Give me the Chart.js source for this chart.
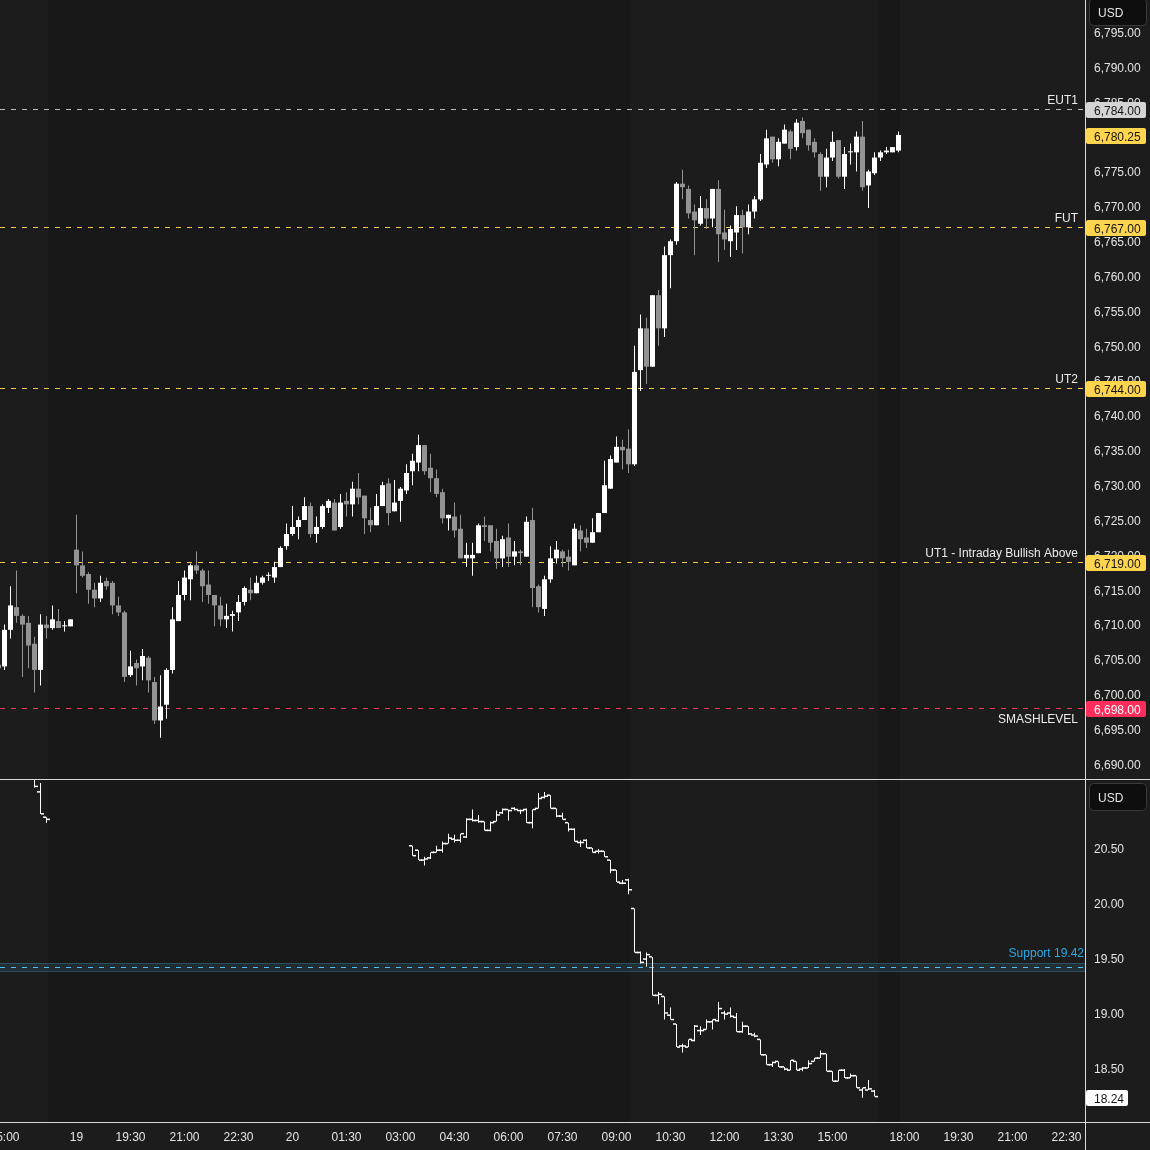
<!DOCTYPE html>
<html>
<head>
<meta charset="utf-8">
<script src="https://cdn.jsdelivr.net/npm/chart.js@4.4.1/dist/chart.umd.min.js"></script>
<style>
  html, body { margin: 0; padding: 0; background: #1c1c1c; }
  #wrap { position: relative; width: 1150px; height: 1150px; overflow: hidden; }
  canvas { position: absolute; left: 0; }
  #esChart { top: 0; }
  #vixChart { top: 780px; }
  .hline { position: absolute; left: 0; width: 1150px; height: 1px; background: #d9d9d9; }
  .vline { position: absolute; top: 0; left: 1085px; width: 1px; height: 1150px; background: #d9d9d9; }
</style>
</head>
<body>
<div id="wrap">
  <canvas id="esChart" width="1150" height="779"></canvas>
  <canvas id="vixChart" width="1150" height="370"></canvas>
  <div class="hline" style="top:779px"></div>
  <div class="hline" style="top:1122px"></div>
  <div class="vline"></div>
</div>
<script>
// ---- data -------------------------------------------------------------
// 10 minute bars. slot 0 = 18:00 session open (the "19" mark), one slot per bar
const esFirstSlot = -13;
const esOpen = [
  6704.25, 6704.0, 6709.25, 6712.5, 6711.25, 6710.25, 6707.25, 6703.5, 6710.0, 6709.5, 6710.5, 6709.75, 6709.75,
  6720.75, 6718.5, 6717.25, 6715.0, 6713.75, 6716.25, 6716.0, 6712.75, 6711.75, 6702.75, 6704.5, 6704.0, 6705.25,
  6701.75, 6696.25, 6698.5, 6703.5, 6710.5, 6714.25, 6716.5, 6718.5, 6717.75, 6715.75, 6714.25, 6712.75, 6710.75,
  6711.25, 6711.75, 6713.25, 6715.0, 6714.5, 6716.0, 6717.0, 6716.75, 6718.25, 6721.25, 6723.0, 6724.0, 6725.0,
  6727.0, 6723.0, 6724.0, 6726.75, 6727.5, 6724.0, 6727.75, 6727.25, 6729.5, 6728.5, 6725.0, 6724.25, 6727.0,
  6730.25, 6726.25, 6727.75, 6729.25, 6732.0, 6733.25, 6735.75, 6732.5, 6731.0, 6729.0, 6725.25, 6725.5, 6723.75,
  6719.5, 6719.5, 6720.25, 6724.25, 6724.25, 6722.0, 6719.5, 6722.5, 6719.75, 6720.5, 6719.75, 6725.0, 6715.5,
  6712.25, 6716.5, 6719.5, 6720.5, 6719.75, 6718.5, 6723.5, 6722.5, 6721.75, 6723.25, 6726.0, 6729.5, 6733.25,
  6735.5, 6735.25, 6733.0, 6746.5, 6752.5, 6747.0, 6757.25, 6752.5, 6763.0, 6765.0, 6773.25, 6772.5, 6769.25,
  6767.5, 6769.75, 6768.25, 6772.5, 6766.25, 6765.0, 6766.25, 6768.75, 6767.0, 6769.25, 6771.0, 6776.0, 6780.0,
  6776.75, 6779.0, 6780.75, 6778.5, 6782.25, 6781.0, 6779.25, 6777.5, 6774.25, 6777.0, 6779.5, 6774.25, 6777.75,
  6777.75, 6780.0, 6773.0, 6774.75, 6777.0, 6777.75, 6777.75, 6778.0
];
const esHigh = [
  6704.5, 6710.0, 6715.5, 6717.75, 6711.5, 6711.25, 6708.25, 6711.5, 6711.25, 6712.75, 6712.25, 6710.5, 6710.75,
  6725.75, 6720.5, 6717.5, 6716.0, 6717.0, 6716.75, 6716.25, 6714.0, 6712.0, 6706.25, 6705.0, 6706.5, 6705.5,
  6702.5, 6702.75, 6703.75, 6712.5, 6716.25, 6717.75, 6718.75, 6720.5, 6718.0, 6717.75, 6714.25, 6714.0, 6713.0,
  6712.0, 6714.25, 6715.5, 6716.75, 6717.0, 6717.0, 6717.5, 6719.0, 6721.25, 6724.5, 6727.0, 6725.5, 6728.25,
  6727.5, 6725.5, 6727.25, 6728.0, 6728.0, 6728.75, 6729.0, 6730.5, 6731.75, 6728.5, 6726.75, 6728.75, 6730.5,
  6731.0, 6730.75, 6729.75, 6733.0, 6734.5, 6737.25, 6735.75, 6734.5, 6732.25, 6729.5, 6725.75, 6727.5, 6725.75,
  6721.75, 6721.75, 6724.5, 6725.5, 6724.25, 6723.75, 6722.75, 6724.5, 6722.0, 6720.75, 6725.5, 6726.75, 6715.75,
  6717.0, 6721.25, 6722.0, 6720.75, 6720.75, 6724.5, 6724.25, 6723.75, 6725.25, 6726.0, 6733.5, 6734.25, 6737.0,
  6736.5, 6738.0, 6750.0, 6754.5, 6754.0, 6757.25, 6758.0, 6764.25, 6765.25, 6773.5, 6775.25, 6773.0, 6770.25,
  6771.5, 6771.0, 6772.5, 6773.75, 6769.5, 6767.25, 6770.0, 6769.5, 6770.25, 6771.5, 6777.5, 6781.0, 6780.0,
  6779.75, 6781.75, 6781.0, 6782.5, 6782.75, 6781.0, 6779.75, 6777.75, 6778.25, 6780.75, 6779.5, 6778.5, 6779.0,
  6780.75, 6782.25, 6775.25, 6777.75, 6778.0, 6778.5, 6778.5, 6780.75
];
const esLow = [
  6703.5, 6703.5, 6708.0, 6710.25, 6702.5, 6703.75, 6700.25, 6701.25, 6708.0, 6709.25, 6709.5, 6709.0, 6709.75,
  6714.5, 6716.75, 6713.0, 6712.5, 6713.25, 6715.0, 6711.5, 6711.25, 6701.75, 6702.5, 6701.25, 6702.0, 6700.25,
  6695.75, 6693.75, 6696.5, 6703.0, 6710.5, 6713.5, 6713.5, 6717.25, 6713.25, 6713.0, 6709.75, 6709.75, 6709.5,
  6709.0, 6710.5, 6712.75, 6713.5, 6714.5, 6715.75, 6716.25, 6716.0, 6718.25, 6720.75, 6722.75, 6722.25, 6725.0,
  6722.5, 6721.75, 6723.75, 6726.0, 6723.5, 6723.75, 6725.5, 6725.5, 6727.25, 6723.0, 6723.25, 6724.25, 6727.0,
  6724.25, 6726.25, 6724.75, 6728.75, 6730.0, 6732.0, 6731.5, 6729.0, 6728.25, 6724.5, 6723.5, 6722.5, 6719.5,
  6718.25, 6717.0, 6720.25, 6722.0, 6720.5, 6718.0, 6718.25, 6718.25, 6718.5, 6718.5, 6719.75, 6712.5, 6711.75,
  6711.25, 6716.0, 6718.75, 6718.25, 6717.75, 6718.5, 6720.5, 6721.0, 6721.75, 6723.25, 6726.0, 6729.5, 6733.25,
  6732.25, 6731.75, 6732.75, 6743.5, 6744.5, 6747.0, 6750.0, 6751.25, 6758.25, 6764.5, 6771.0, 6768.25, 6763.0,
  6767.25, 6766.75, 6767.0, 6762.0, 6763.75, 6762.75, 6763.75, 6763.25, 6766.0, 6768.25, 6770.75, 6775.5, 6776.25,
  6775.75, 6779.0, 6776.75, 6778.0, 6779.75, 6778.0, 6777.0, 6772.25, 6772.75, 6776.5, 6774.0, 6772.5, 6776.0,
  6775.0, 6772.25, 6769.75, 6774.5, 6776.5, 6777.5, 6777.75, 6777.75
];
const esClose = [
  6703.75, 6709.25, 6712.75, 6711.25, 6710.0, 6707.0, 6703.5, 6710.0, 6709.5, 6710.75, 6709.5, 6709.75, 6710.75,
  6718.5, 6717.0, 6715.0, 6713.75, 6716.0, 6715.5, 6712.75, 6711.75, 6702.5, 6704.0, 6703.75, 6705.5, 6702.0,
  6696.25, 6698.25, 6703.5, 6710.75, 6714.25, 6716.75, 6718.5, 6717.75, 6715.5, 6714.25, 6712.75, 6710.75, 6711.25,
  6711.5, 6713.25, 6715.25, 6714.5, 6716.0, 6716.75, 6717.0, 6718.25, 6721.0, 6723.0, 6724.0, 6725.0, 6727.0,
  6723.0, 6724.0, 6727.0, 6727.75, 6723.5, 6727.5, 6727.25, 6729.5, 6728.25, 6725.25, 6724.25, 6727.0, 6730.0,
  6726.0, 6727.5, 6729.5, 6731.75, 6733.5, 6735.75, 6732.0, 6731.0, 6728.75, 6725.25, 6725.75, 6723.5, 6719.5,
  6720.0, 6720.0, 6724.25, 6724.0, 6721.75, 6719.5, 6722.25, 6719.75, 6720.5, 6720.25, 6724.75, 6715.25, 6712.5,
  6716.5, 6719.5, 6720.75, 6719.5, 6719.0, 6723.75, 6722.25, 6721.75, 6723.25, 6726.0, 6730.0, 6733.75, 6735.5,
  6735.0, 6733.0, 6746.25, 6752.5, 6747.0, 6757.25, 6752.5, 6763.0, 6765.0, 6773.25, 6772.75, 6769.0, 6768.0,
  6769.75, 6768.25, 6772.5, 6766.0, 6765.25, 6766.75, 6768.75, 6767.0, 6769.25, 6771.0, 6776.25, 6779.75, 6776.75,
  6779.25, 6781.0, 6778.25, 6782.0, 6780.5, 6778.75, 6777.75, 6774.25, 6777.0, 6779.25, 6774.25, 6777.5, 6777.75,
  6780.0, 6772.75, 6775.0, 6777.0, 6777.75, 6778.0, 6778.5, 6780.25
];

// VIX, same 10 minute slots (cash index only prints in its own hours)
const vixSlots = [-7, -6, -5].concat(Array.from({ length: 78 }, (_, i) => 56 + i));
const vixOpen = [
  21.15, 21.01, 20.78,
  20.52, 20.48, 20.39, 20.41, 20.46, 20.48, 20.54, 20.58, 20.57, 20.60, 20.76, 20.75, 20.74, 20.66, 20.74, 20.82,
  20.85, 20.86, 20.84, 20.85, 20.73, 20.86, 20.96, 20.98, 20.86, 20.79, 20.73, 20.67, 20.55, 20.57, 20.50, 20.47,
  20.47, 20.39, 20.30, 20.18, 20.21, 19.95, 19.55, 19.49, 19.51, 19.16, 19.15, 18.98, 18.90, 18.70, 18.69, 18.75,
  18.84, 18.85, 18.92, 18.93, 19.00, 19.00, 18.96, 18.83, 18.88, 18.80, 18.76, 18.62, 18.53, 18.56, 18.51, 18.48,
  18.56, 18.49, 18.50, 18.56, 18.59, 18.63, 18.47, 18.38, 18.48, 18.41, 18.43, 18.30, 18.30, 18.29
];
const vixHigh = [
  21.20, 21.09, 20.78,
  20.52, 20.48, 20.42, 20.46, 20.52, 20.56, 20.63, 20.62, 20.63, 20.77, 20.85, 20.80, 20.74, 20.74, 20.84, 20.86,
  20.85, 20.87, 20.85, 20.86, 20.85, 21.00, 21.01, 20.98, 20.86, 20.82, 20.73, 20.68, 20.57, 20.58, 20.50, 20.49,
  20.47, 20.39, 20.30, 20.21, 20.22, 19.95, 19.56, 19.55, 19.51, 19.19, 19.15, 19.05, 18.90, 18.72, 18.76, 18.89,
  18.88, 18.94, 18.94, 19.10, 19.02, 19.05, 19.00, 18.92, 18.88, 18.82, 18.76, 18.62, 18.56, 18.56, 18.51, 18.57,
  18.56, 18.51, 18.57, 18.59, 18.66, 18.63, 18.47, 18.48, 18.49, 18.45, 18.43, 18.32, 18.39, 18.30
];
const vixLow = [
  21.05, 20.81, 20.73,
  20.43, 20.39, 20.34, 20.40, 20.46, 20.46, 20.54, 20.55, 20.55, 20.59, 20.74, 20.73, 20.66, 20.65, 20.74, 20.81,
  20.75, 20.84, 20.81, 20.73, 20.68, 20.86, 20.95, 20.86, 20.78, 20.76, 20.65, 20.56, 20.51, 20.50, 20.46, 20.45,
  20.42, 20.27, 20.19, 20.17, 20.08, 19.55, 19.45, 19.42, 19.16, 19.08, 18.94, 18.94, 18.69, 18.64, 18.69, 18.74,
  18.80, 18.85, 18.85, 18.92, 18.94, 18.96, 18.83, 18.82, 18.80, 18.78, 18.62, 18.53, 18.51, 18.51, 18.48, 18.48,
  18.48, 18.47, 18.50, 18.56, 18.59, 18.47, 18.38, 18.38, 18.41, 18.41, 18.32, 18.23, 18.30, 18.24
];
const vixClose = [
  21.06, 20.81, 20.76,
  20.43, 20.39, 20.40, 20.46, 20.48, 20.54, 20.59, 20.57, 20.63, 20.76, 20.75, 20.74, 20.66, 20.73, 20.80, 20.85,
  20.84, 20.85, 20.84, 20.73, 20.85, 20.95, 20.97, 20.86, 20.79, 20.76, 20.67, 20.56, 20.55, 20.50, 20.46, 20.47,
  20.42, 20.30, 20.19, 20.18, 20.12, 19.55, 19.46, 19.53, 19.16, 19.17, 19.00, 18.94, 18.69, 18.70, 18.76, 18.88,
  18.84, 18.92, 18.94, 19.04, 18.99, 18.97, 18.83, 18.88, 18.81, 18.79, 18.62, 18.53, 18.55, 18.51, 18.49, 18.57,
  18.48, 18.50, 18.54, 18.59, 18.63, 18.47, 18.38, 18.48, 18.41, 18.43, 18.32, 18.32, 18.31, 18.24
];

// horizontal levels on the ES pane
const levelValues = [6784, 6767, 6744, 6719, 6698];
const levelNames = ['EUT1', 'FUT', 'UT2', 'UT1 - Intraday Bullish Above', 'SMASHLEVEL'];
const supportValue = 19.42;
const supportZone = [19.37, 19.455];

// time axis
const timeTickSlots = [-12, 0, 9, 18, 27, 36, 45, 54, 63, 72, 81, 90, 99, 108, 117, 126, 138, 147, 156, 165];
const timeTickLabels = ['15:00', '19', '19:30', '21:00', '22:30', '20', '01:30', '03:00', '04:30', '06:00',
  '07:30', '09:00', '10:30', '12:00', '13:30', '15:00', '18:00', '19:30', '21:00', '22:30'];
// regular-hours shading, in slots
const sessionBands = [[-14, -4.75], [92.25, 133.6], [137.25, 175]];

const esTicks = [];
for (let v = 6690; v <= 6795; v += 5) esTicks.push(v);
const vixTicks = [18.5, 19, 19.5, 20, 20.5];

// ---- styles -----------------------------------------------------------
const FONT = '"Liberation Sans", Arial, sans-serif';
const upColor = '#ffffff';
const downColor = '#939393';
const textColor = '#e4e4e4';
const levelLineColors = ['#bdbdbd', '#f2c94c', '#f2c94c', '#f2c94c', '#f23a5e'];
const levelBadgeColors = ['#d4d4d4', '#ffd54f', '#ffd54f', '#ffd54f', '#ff2d5c'];
const levelBadgeText = ['#141414', '#141414', '#141414', '#141414', '#ffffff'];
const levelNameBelow = [false, false, false, false, true];
const X_MIN = -12.75;
const X_MAX = X_MIN + 1085 / 6;
const TEXT_NUDGE = 1.5; // Liberation sits a bit high on 'middle'

Chart.defaults.font.family = FONT;
Chart.defaults.font.size = 12;
Chart.defaults.color = textColor;

const esSlots = esOpen.map((_, i) => esFirstSlot + i);
const candleColor = (ctx) => esClose[ctx.dataIndex] >= esOpen[ctx.dataIndex] ? upColor : downColor;

const fmtPrice = (v) => v.toLocaleString('en-US', { minimumFractionDigits: 2, maximumFractionDigits: 2 });

function noPad(axis) {
  axis.paddingLeft = 0;
  axis.paddingRight = 0;
  axis.paddingTop = 0;
  axis.paddingBottom = 0;
}

function usdBox(ctx, top) {
  ctx.save();
  ctx.fillStyle = '#0e0e0e';
  ctx.strokeStyle = '#3a3a3a';
  ctx.lineWidth = 1;
  ctx.beginPath();
  ctx.roundRect(1089.5, top + 0.5, 57, 27, 4);
  ctx.fill();
  ctx.stroke();
  ctx.fillStyle = textColor;
  ctx.font = '12px ' + FONT;
  ctx.textAlign = 'left';
  ctx.textBaseline = 'middle';
  ctx.fillText('USD', 1098, top + 14 + TEXT_NUDGE);
  ctx.restore();
}

function badge(ctx, py, w, bg, fg, text) {
  const cy = Math.round(py) + 1;
  ctx.save();
  ctx.fillStyle = bg;
  ctx.beginPath();
  ctx.roundRect(1086, cy - 8, w, 16, 2);
  ctx.fill();
  ctx.fillStyle = fg;
  ctx.font = '12px ' + FONT;
  ctx.textAlign = 'left';
  ctx.textBaseline = 'middle';
  ctx.fillText(text, 1094, cy + TEXT_NUDGE);
  ctx.restore();
}

const bandPlugin = {
  id: 'bands',
  beforeDraw(chart) {
    const { ctx, chartArea: a, scales: { x } } = chart;
    ctx.save();
    ctx.fillStyle = '#181818';
    ctx.fillRect(a.left, a.top, a.width, a.height);
    ctx.fillStyle = '#1c1c1c';
    sessionBands.forEach(([s, e]) => {
      const x0 = Math.max(a.left, Math.round(x.getPixelForValue(s)));
      const x1 = Math.min(a.right, Math.round(x.getPixelForValue(e)));
      if (x1 > x0) ctx.fillRect(x0, a.top, x1 - x0, a.height);
    });
    ctx.restore();
  }
};

const levelPlugin = {
  id: 'levels',
  beforeDatasetsDraw(chart) {
    const { ctx, chartArea: a, scales: { y } } = chart;
    ctx.save();
    ctx.lineWidth = 1;
    ctx.setLineDash([5, 6]);
    ctx.font = '12px ' + FONT;
    ctx.textAlign = 'right';
    ctx.textBaseline = 'middle';
    levelValues.forEach((v, i) => {
      const py = Math.round(y.getPixelForValue(v)) + 0.5;
      ctx.strokeStyle = levelLineColors[i];
      ctx.beginPath();
      ctx.moveTo(a.left, py);
      ctx.lineTo(a.right, py);
      ctx.stroke();
      ctx.fillStyle = '#ececec';
      ctx.fillText(levelNames[i], a.right - 7, py + (levelNameBelow[i] ? 10 : -10) + TEXT_NUDGE);
    });
    ctx.restore();
  },
  afterDraw(chart) {
    const { ctx, scales: { y } } = chart;
    levelValues.forEach((v, i) => {
      badge(ctx, y.getPixelForValue(v), 60, levelBadgeColors[i], levelBadgeText[i], fmtPrice(v));
    });
    const last = esClose[esClose.length - 1];
    badge(ctx, y.getPixelForValue(last), 60, '#ffd54f', '#141414', fmtPrice(last));
    usdBox(ctx, -2);
  }
};

const supportPlugin = {
  id: 'support',
  beforeDatasetsDraw(chart) {
    const { ctx, chartArea: a, scales: { y } } = chart;
    const y0 = Math.round(y.getPixelForValue(supportZone[1]));
    const y1 = Math.round(y.getPixelForValue(supportZone[0]));
    const py = Math.round(y.getPixelForValue(supportValue)) + 0.5;
    ctx.save();
    ctx.fillStyle = 'rgba(79,195,247,0.12)';
    ctx.fillRect(a.left, y0, a.width, y1 - y0);
    ctx.strokeStyle = 'rgba(79,195,247,0.22)';
    ctx.lineWidth = 1;
    ctx.beginPath();
    ctx.moveTo(a.left, y0 + 0.5); ctx.lineTo(a.right, y0 + 0.5);
    ctx.moveTo(a.left, y1 - 0.5); ctx.lineTo(a.right, y1 - 0.5);
    ctx.stroke();
    ctx.setLineDash([5, 6]);
    ctx.strokeStyle = '#4fc3f7';
    ctx.beginPath();
    ctx.moveTo(a.left, py); ctx.lineTo(a.right, py);
    ctx.stroke();
    ctx.font = '12px ' + FONT;
    ctx.fillStyle = '#2aa8e4';
    ctx.textAlign = 'right';
    ctx.textBaseline = 'middle';
    ctx.fillText('Support ' + supportValue.toFixed(2), a.right - 1, py - 15 + TEXT_NUDGE);
    ctx.restore();
  },
  afterDraw(chart) {
    const { ctx, scales: { y } } = chart;
    const last = vixClose[vixClose.length - 1];
    badge(ctx, y.getPixelForValue(last), 42, '#ffffff', '#141414', last.toFixed(2));
    usdBox(ctx, 3);
  }
};

// ---- ES candles ---------------------------------------------------------
new Chart(document.getElementById('esChart'), {
  type: 'bar',
  data: {
    datasets: [
      {
        data: esSlots.map((s, i) => ({ x: s, y: [esLow[i], esHigh[i]] })),
        backgroundColor: candleColor,
        barThickness: 1,
        minBarLength: 1
      },
      {
        data: esSlots.map((s, i) => ({ x: s, y: [esOpen[i], esClose[i]] })),
        backgroundColor: candleColor,
        barThickness: 5,
        minBarLength: 1
      }
    ]
  },
  options: {
    responsive: false,
    animation: false,
    devicePixelRatio: 1,
    layout: { padding: 0, autoPadding: false },
    datasets: { bar: { grouped: false, inflateAmount: 0, borderWidth: 0 } },
    plugins: { legend: { display: false }, tooltip: { enabled: false } },
    events: [],
    scales: {
      x: { type: 'linear', min: X_MIN, max: X_MAX, offset: false, display: false },
      y: {
        position: 'right',
        min: 6687.85,
        max: 6799.6,
        beginAtZero: false,
        grid: { display: false, drawTicks: false },
        border: { display: false },
        afterBuildTicks: (axis) => { axis.ticks = esTicks.map(v => ({ value: v })); },
        afterFit: (axis) => { axis.width = 65; noPad(axis); },
        ticks: { padding: 9, labelOffset: TEXT_NUDGE, color: textColor, callback: (v) => fmtPrice(v) }
      }
    }
  },
  plugins: [bandPlugin, levelPlugin]
});

// ---- VIX bars -------------------------------------------------------------
new Chart(document.getElementById('vixChart'), {
  type: 'bar',
  data: {
    datasets: [
      {
        type: 'line',
        data: vixSlots.map((s, i) => ({ x: s - 1 / 3, y: vixOpen[i] })),
        showLine: false,
        pointStyle: 'line',
        pointRadius: 1.5,
        pointBorderWidth: 1.5,
        pointBorderColor: upColor
      },
      {
        type: 'line',
        data: vixSlots.map((s, i) => ({ x: s + 1 / 3, y: vixClose[i] })),
        showLine: false,
        pointStyle: 'line',
        pointRadius: 1.5,
        pointBorderWidth: 1.5,
        pointBorderColor: upColor
      },
      {
        data: vixSlots.map((s, i) => ({ x: s, y: [vixLow[i], vixHigh[i]] })),
        backgroundColor: upColor,
        barThickness: 1,
        minBarLength: 1
      }
    ]
  },
  options: {
    responsive: false,
    animation: false,
    devicePixelRatio: 1,
    layout: { padding: 0, autoPadding: false },
    datasets: { bar: { grouped: false, inflateAmount: 0, borderWidth: 0 } },
    plugins: { legend: { display: false }, tooltip: { enabled: false } },
    events: [],
    scales: {
      x: {
        type: 'linear',
        min: X_MIN,
        max: X_MAX,
        offset: false,
        grid: { display: false, drawTicks: false },
        border: { display: false },
        afterBuildTicks: (axis) => { axis.ticks = timeTickSlots.map(v => ({ value: v })); },
        afterFit: (axis) => { axis.height = 28; noPad(axis); },
        ticks: {
          autoSkip: false,
          maxRotation: 0,
          padding: 8,
          color: textColor,
          callback: (v, i) => timeTickLabels[i]
        }
      },
      y: {
        position: 'right',
        min: 18.009,
        max: 21.118,
        beginAtZero: false,
        grid: { display: false, drawTicks: false },
        border: { display: false },
        afterBuildTicks: (axis) => { axis.ticks = vixTicks.map(v => ({ value: v })); },
        afterFit: (axis) => { axis.width = 65; noPad(axis); },
        ticks: { padding: 9, labelOffset: TEXT_NUDGE, color: textColor, callback: (v) => v.toFixed(2) }
      }
    }
  },
  plugins: [bandPlugin, supportPlugin]
});
</script>
</body>
</html>
